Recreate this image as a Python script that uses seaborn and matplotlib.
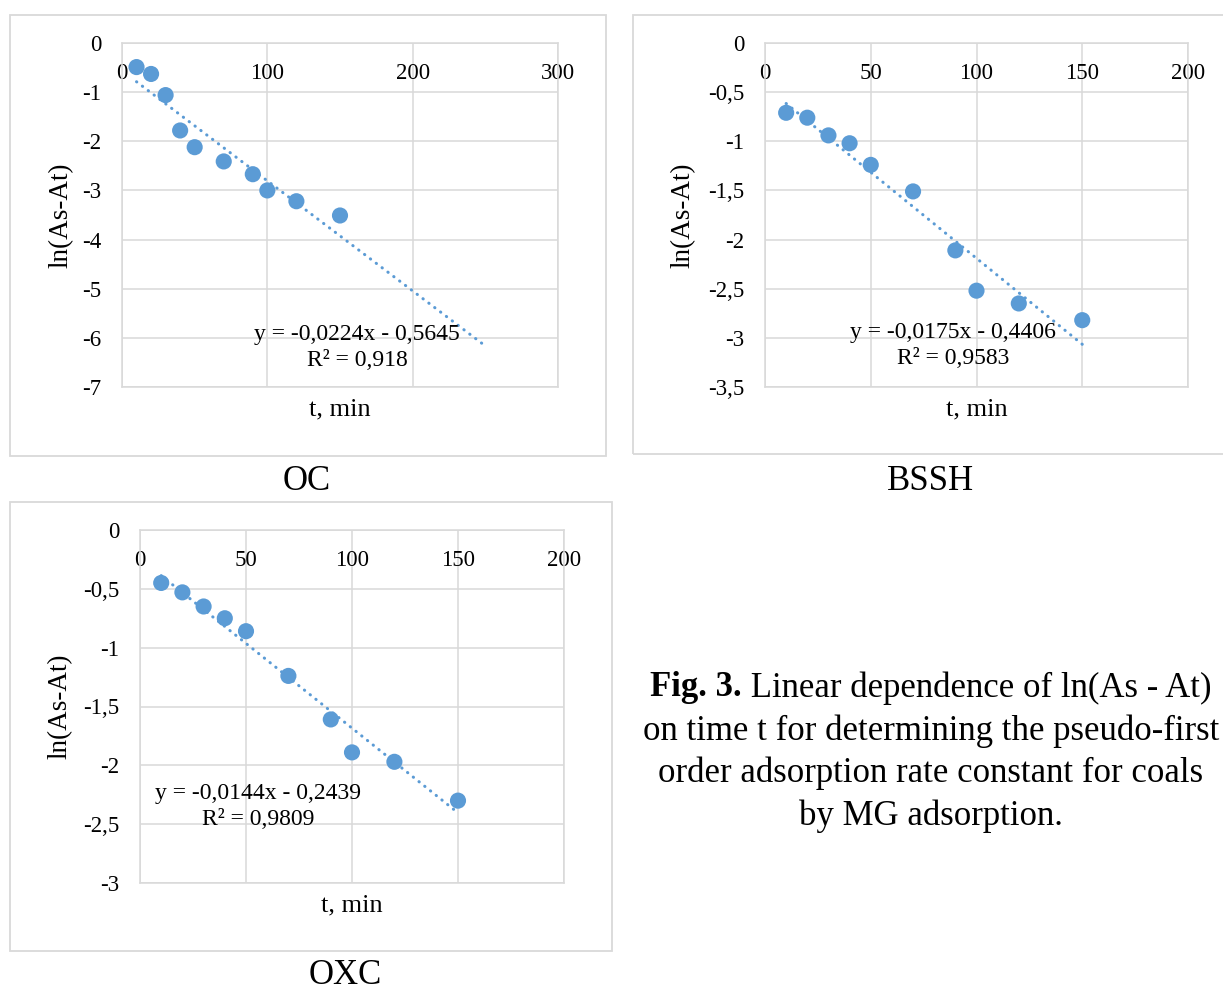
import numpy as np
import pandas as pd
import seaborn as sns
import matplotlib.pyplot as plt
from matplotlib.patches import Rectangle
from matplotlib.ticker import FuncFormatter, MultipleLocator

# time points, min
times = [10, 20, 30, 40, 50, 70, 90, 100, 120, 150]

# ln(As-At)
oc_ln = [-0.49, -0.63, -1.06, -1.78, -2.12, -2.41, -2.67, -3.00, -3.22, -3.51]
bssh_ln = [-0.71, -0.76, -0.94, -1.02, -1.24, -1.51, -2.11, -2.52, -2.65, -2.82]
oxc_ln = [-0.45, -0.53, -0.65, -0.75, -0.86, -1.24, -1.61, -1.89, -1.97, -2.30]

# trendline coefficients as printed on the chart
slopes = [-0.0224, -0.0175, -0.0144]
intercepts = [-0.5645, -0.4406, -0.2439]
trend_end = [250, 150, 150]
equations = ['y = -0,0224x - 0,5645\nR² = 0,918',
             'y = -0,0175x - 0,4406\nR² = 0,9583',
             'y = -0,0144x - 0,2439\nR² = 0,9809']
names = ['OC', 'BSSH', 'OXC']

sns.set_style('white')
plt.rcParams['font.family'] = ['Liberation Serif', 'DejaVu Serif']
plt.rcParams['text.color'] = 'black'
plt.rcParams['xtick.color'] = 'black'
plt.rcParams['ytick.color'] = 'black'
plt.rcParams['axes.labelcolor'] = 'black'

W, H = 1223, 991
fig = plt.figure(figsize=(W / 100, H / 100), dpi=100)
blue = '#5B9BD5'
grey = '#d9d9d9'


def px_box(left, top, right, bottom):
    return [left / W, 1 - bottom / H, (right - left) / W, (bottom - top) / H]


def comma(v, pos):
    return f'{v + 0.0:g}'.replace('.', ',')


# outer chart frames
for l, t, r, b in [(10, 15, 606, 456), (633, 15, 1240, 454), (10, 502, 612, 951)]:
    fig.add_artist(Rectangle((l / W, 1 - b / H), (r - l) / W, (b - t) / H,
                             transform=fig.transFigure, fill=False,
                             edgecolor=grey, lw=1.3))

axes_px = [(122, 43, 558, 387), (765, 43, 1188, 387), (140, 530, 564, 883)]
xmax = [300, 200, 200]
xstep = [100, 50, 50]
ymin = [-7, -3.5, -3]
ystep = [1, 0.5, 0.5]
eq_pos = [(0.539, 0.115), (0.444, 0.12), (0.279, 0.217)]
ylab_x = [-0.112, -0.163, -0.158]
series = [oc_ln, bssh_ln, oxc_ln]

for i in range(3):
    ax = fig.add_axes(px_box(*axes_px[i]))
    df = pd.DataFrame({'t': times, 'ln': series[i]})

    sns.scatterplot(data=df, x='t', y='ln', ax=ax, color=blue, s=135,
                    edgecolor='none', zorder=2)

    xs = np.array([times[0], trend_end[i]])
    ax.plot(xs, slopes[i] * xs + intercepts[i], color=blue, lw=2.2,
            linestyle=(0, (0.1, 2.3)), dash_capstyle='round', zorder=3)

    ax.set_xlim(0, xmax[i])
    ax.set_ylim(ymin[i], 0)
    ax.xaxis.set_major_locator(MultipleLocator(xstep[i]))
    ax.yaxis.set_major_locator(MultipleLocator(ystep[i]))
    ax.xaxis.set_major_formatter(FuncFormatter(comma))
    ax.yaxis.set_major_formatter(FuncFormatter(comma))
    ax.grid(True, color=grey, lw=1.1)
    for s in ax.spines.values():
        s.set_color(grey)
        s.set_linewidth(1.1)
    ax.tick_params(axis='x', bottom=False, labelbottom=False, top=False,
                   labeltop=True, pad=-33, labelsize=16.5)
    ax.tick_params(axis='y', length=0, pad=15, labelsize=16.5)

    ax.set_xlabel('t, min', fontsize=19)
    ax.xaxis.set_label_position('bottom')
    ax.xaxis.set_label_coords(0.5, -0.033)
    ax.set_ylabel('ln(As-At)', fontsize=19.5)
    ax.yaxis.set_label_coords(ylab_x[i], 0.5)

    ax.text(eq_pos[i][0], eq_pos[i][1], equations[i], transform=ax.transAxes,
            ha='center', va='center', multialignment='center', fontsize=17,
            linespacing=1.3)

# panel names
for name, (cx, cy) in zip(names, [(307, 482), (930, 482), (345, 975)]):
    fig.text(cx / W, 1 - cy / H, name, ha='center', va='center', fontsize=25)

# figure caption
lines = ['on time t for determining the pseudo-first',
         'order adsorption rate constant for coals',
         'by MG adsorption.']
cx = 931
for k, line in enumerate(lines):
    fig.text(cx / W, 1 - (731 + 42.7 * k) / H, line, ha='center',
             va='center', fontsize=25)

renderer = fig.canvas.get_renderer()
bold = fig.text(0, 1 - 688 / H, 'Fig. 3.', weight='bold', va='center',
                fontsize=25)
rest = fig.text(0, 1 - 688 / H, ' Linear dependence of ln(As - At)',
                va='center', fontsize=25)
w1 = bold.get_window_extent(renderer).width
w2 = rest.get_window_extent(renderer).width
x0 = cx - (w1 + w2) / 2
bold.set_x(x0 / W)
rest.set_x((x0 + w1) / W)

fig.savefig('out.png', dpi=100)
